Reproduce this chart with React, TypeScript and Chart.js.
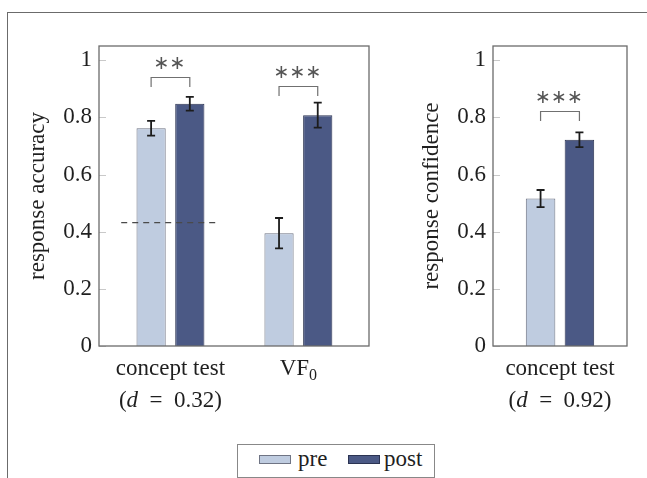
import React, { useEffect, useRef } from 'react';
import { Chart, registerables } from 'chart.js';

Chart.register(...registerables);

// ---------------- data ----------------
const seriesNames = ['pre', 'post'];

const accCategories = ['concept test', 'VF₀'];
const accNotes = ['(d = 0.32)', ''];
const accPre = [0.762, 0.395];
const accPost = [0.848, 0.808];
const accPreErr = [0.026, 0.053];
const accPostErr = [0.024, 0.044];
const accSigStars = ['**', '***'];
const accSigLevel = [0.943, 0.911];
const chanceLevel = 0.432;
const chanceSpan = [-0.385, 0.385];

const confCategories = ['concept test'];
const confNotes = ['(d = 0.92)'];
const confPre = [0.516];
const confPost = [0.722];
const confPreErr = [0.03];
const confPostErr = [0.026];
const confSigStars = ['***'];
const confSigLevel = [0.824];

const yTicks = [0, 0.2, 0.4, 0.6, 0.8, 1];
const yTickLabels = ['0', '0.2', '0.4', '0.6', '0.8', '1'];

// ---------------- style ----------------
const PRE_FILL = '#bfcce0';
const PRE_LINE = '#6f7484';
const POST_FILL = '#4b5985';
const POST_LINE = '#2b3352';
const TEXT = '#1f1f1f';
const FRAME = '#6b6b6b';
const SERIF = '"Liberation Serif", "DejaVu Serif", serif';
const FS = 23;

type Seg = { t: string; it?: boolean; sub?: boolean; gap?: boolean };

function segmentsOf(text: string): Seg[] {
  const m = text.match(/^\((\w) = (.+)\)$/);
  if (m) {
    return [
      { t: '(' },
      { t: m[1], it: true },
      { t: '=', gap: true },
      { t: m[2] + ')' },
    ];
  }
  const segs: Seg[] = [];
  let buf = '';
  for (const ch of text) {
    const c = ch.charCodeAt(0);
    if (c >= 0x2080 && c <= 0x2089) {
      if (buf) segs.push({ t: buf });
      buf = '';
      segs.push({ t: String(c - 0x2080), sub: true });
    } else buf += ch;
  }
  if (buf) segs.push({ t: buf });
  return segs;
}

function drawRich(ctx: CanvasRenderingContext2D, text: string, cx: number, baseline: number) {
  const segs = segmentsOf(text);
  const fontOf = (s: Seg) => `${s.it ? 'italic ' : ''}${s.sub ? 16 : FS}px ${SERIF}`;
  const gap = FS * 0.5;
  const widths = segs.map((s) => {
    ctx.font = fontOf(s);
    return ctx.measureText(s.t).width + (s.gap ? 2 * gap : 0);
  });
  const total = widths.reduce((a, b) => a + b, 0);
  let x = cx - total / 2;
  ctx.textAlign = 'left';
  ctx.textBaseline = 'alphabetic';
  segs.forEach((s, i) => {
    ctx.font = fontOf(s);
    ctx.fillText(s.t, x + (s.gap ? gap : 0), baseline + (s.sub ? 5 : 0));
    x += widths[i];
  });
}

type OverlayOpts = {
  values: number[][];
  errors: number[][];
  sigStars: string[];
  sigLevel: number[];
  categories: string[];
  notes: string[];
};

function makeOverlay(o: OverlayOpts) {
  return {
    id: 'overlay',
    afterDraw(chart: any) {
      const { ctx, chartArea: a, scales } = chart;
      const xs = scales.x;
      const ys = scales.y;
      ctx.save();
      // inner tick marks
      ctx.strokeStyle = '#c9c9c9';
      ctx.lineWidth = 1;
      yTicks.forEach((v) => {
        const py = Math.round(ys.getPixelForValue(v)) + 0.5;
        ctx.beginPath();
        ctx.moveTo(a.left, py);
        ctx.lineTo(a.left + 7, py);
        ctx.stroke();
      });
      // frame
      ctx.strokeStyle = FRAME;
      ctx.lineWidth = 1.3;
      ctx.strokeRect(a.left, a.top, a.right - a.left, a.bottom - a.top);
      // error bars
      o.errors.forEach((errs, d) => {
        const meta = chart.getDatasetMeta(d);
        meta.data.forEach((el: any, i: number) => {
          const v = o.values[d][i];
          const top = ys.getPixelForValue(v + errs[i]);
          const bot = ys.getPixelForValue(v - errs[i]);
          ctx.strokeStyle = '#1c1c1c';
          ctx.lineWidth = 1.8;
          ctx.beginPath();
          ctx.moveTo(el.x, top);
          ctx.lineTo(el.x, bot);
          ctx.moveTo(el.x - 4, top);
          ctx.lineTo(el.x + 4, top);
          ctx.moveTo(el.x - 4, bot);
          ctx.lineTo(el.x + 4, bot);
          ctx.stroke();
        });
      });
      // significance brackets
      const m0 = chart.getDatasetMeta(0);
      const m1 = chart.getDatasetMeta(1);
      o.sigStars.forEach((s, i) => {
        const x0 = m0.data[i].x;
        const x1 = m1.data[i].x;
        const py = Math.round(ys.getPixelForValue(o.sigLevel[i])) + 0.5;
        ctx.strokeStyle = '#707070';
        ctx.lineWidth = 1.2;
        ctx.beginPath();
        ctx.moveTo(x0, py + 9.5);
        ctx.lineTo(x0, py);
        ctx.lineTo(x1, py);
        ctx.lineTo(x1, py + 9.5);
        ctx.stroke();
        ctx.fillStyle = '#555';
        ctx.font = '19px "DejaVu Sans"';
        ctx.textAlign = 'center';
        ctx.textBaseline = 'middle';
        const n = s.length;
        const cx = (x0 + x1) / 2 - 1;
        for (let k = 0; k < n; k++) ctx.fillText('∗', cx + (k - (n - 1) / 2) * 16, py - 13);
      });
      // category labels
      ctx.fillStyle = TEXT;
      o.categories.forEach((c, i) => {
        const px = xs.getPixelForValue(i);
        drawRich(ctx, c, px, a.bottom + 29);
        if (o.notes[i]) drawRich(ctx, o.notes[i], px, a.bottom + 61);
      });
      ctx.restore();
    },
  };
}

function yAxis(title: string, width: number, titlePad: number) {
  return {
    min: 0,
    max: 1.05,
    grid: { display: false, drawTicks: false, tickLength: 0 },
    border: { display: false },
    afterBuildTicks: (s: any) => {
      s.ticks = yTicks.map((v) => ({ value: v }));
    },
    afterFit: (s: any) => {
      s.width = width;
    },
    ticks: {
      padding: 7,
      color: TEXT,
      font: { family: SERIF, size: FS },
      callback: (v: any) => yTickLabels[yTicks.indexOf(v)],
    },
    title: {
      display: true,
      text: title,
      color: TEXT,
      font: { family: SERIF, size: FS },
      padding: { top: titlePad, bottom: 0 },
    },
  };
}

function barDs(label: string, data: any[], fill: string, line: string, cat: number, bar: number) {
  return {
    type: 'bar',
    label,
    data,
    backgroundColor: fill,
    borderColor: line,
    borderWidth: 1,
    categoryPercentage: cat,
    barPercentage: bar,
    order: 0,
  };
}

export default function App() {
  const leftRef = useRef<HTMLCanvasElement>(null);
  const rightRef = useRef<HTMLCanvasElement>(null);

  useEffect(() => {
    const left = new Chart(leftRef.current as HTMLCanvasElement, {
      type: 'bar',
      data: {
        datasets: [
          barDs(seriesNames[0], accCategories.map((_, i) => ({ x: i, y: accPre[i] })), PRE_FILL, PRE_LINE, 0.605, 0.755),
          barDs(seriesNames[1], accCategories.map((_, i) => ({ x: i, y: accPost[i] })), POST_FILL, POST_LINE, 0.605, 0.755),
          {
            type: 'line',
            label: 'chance',
            data: chanceSpan.map((x) => ({ x, y: chanceLevel })),
            borderColor: '#4a4a4a',
            borderWidth: 1.2,
            borderDash: [6, 5],
            pointRadius: 0,
            order: -1,
          },
        ] as any,
      },
      options: {
        responsive: false,
        maintainAspectRatio: false,
        animation: false,
        layout: { padding: { left: 0, right: 278, top: 46, bottom: 58 } },
        plugins: { legend: { display: false }, tooltip: { enabled: false } },
        scales: {
          x: {
            type: 'linear',
            min: -0.5586,
            max: 1.552,
            offset: false,
            bounds: 'data',
            grace: 0,
            grid: { display: false, offset: false },
            border: { display: false },
            ticks: { display: false },
            afterBuildTicks: (s: any) => {
              s.ticks = accCategories.map((_, i) => ({ value: i }));
            },
            afterFit: (s: any) => {
              s.height = 74;
            },
          },
          y: yAxis('response accuracy', 99, 24) as any,
        },
      } as any,
      plugins: [
        makeOverlay({
          values: [accPre, accPost],
          errors: [accPreErr, accPostErr],
          sigStars: accSigStars,
          sigLevel: accSigLevel,
          categories: accCategories,
          notes: accNotes,
        }),
      ],
    });

    const right = new Chart(rightRef.current as HTMLCanvasElement, {
      type: 'bar',
      data: {
        labels: confCategories,
        datasets: [
          barDs(seriesNames[0], confPre, PRE_FILL, PRE_LINE, 0.58, 0.76),
          barDs(seriesNames[1], confPost, POST_FILL, POST_LINE, 0.58, 0.76),
        ] as any,
      },
      options: {
        responsive: false,
        maintainAspectRatio: false,
        animation: false,
        layout: { padding: { left: 400, right: 20, top: 46, bottom: 58 } },
        plugins: { legend: { display: false }, tooltip: { enabled: false } },
        scales: {
          x: {
            grid: { display: false },
            border: { display: false },
            ticks: { display: false },
            afterFit: (s: any) => {
              s.height = 74;
            },
          },
          y: yAxis('response confidence', 93, 18) as any,
        },
      } as any,
      plugins: [
        makeOverlay({
          values: [confPre, confPost],
          errors: [confPreErr, confPostErr],
          sigStars: confSigStars,
          sigLevel: confSigLevel,
          categories: confCategories,
          notes: confNotes,
        }),
      ],
    });

    return () => {
      left.destroy();
      right.destroy();
    };
  }, []);

  const legendText: React.CSSProperties = {
    position: 'absolute',
    top: 2,
    fontFamily: SERIF,
    fontSize: FS,
    lineHeight: `${FS}px`,
    color: TEXT,
    whiteSpace: 'nowrap',
  };
  const swatch: React.CSSProperties = {
    position: 'absolute',
    top: 10,
    width: 32,
    height: 9,
    boxSizing: 'border-box',
  };

  return (
    <div
      style={{
        position: 'absolute',
        left: 0,
        top: 0,
        width: 647,
        height: 478,
        overflow: 'hidden',
        background: '#fff',
      }}
    >
      <div
        style={{
          position: 'absolute',
          left: 7,
          top: 12,
          width: 1000,
          height: 1000,
          border: `1px solid ${FRAME}`,
        }}
      />
      <canvas
        ref={leftRef}
        width={647}
        height={478}
        style={{ position: 'absolute', left: 0, top: 0, width: 647, height: 478 }}
      />
      <canvas
        ref={rightRef}
        width={647}
        height={478}
        style={{ position: 'absolute', left: 0, top: 0, width: 647, height: 478 }}
      />
      <div
        style={{
          position: 'absolute',
          left: 237,
          top: 444,
          width: 198,
          height: 34,
          boxSizing: 'border-box',
          border: '1px solid #888',
          background: '#fff',
        }}
      >
        <span style={{ ...swatch, left: 21, background: PRE_FILL, border: `1px solid ${PRE_LINE}` }} />
        <span style={{ ...legendText, left: 60 }}>{seriesNames[0]}</span>
        <span style={{ ...swatch, left: 110, background: POST_FILL, border: `1px solid ${POST_LINE}` }} />
        <span style={{ ...legendText, left: 146 }}>{seriesNames[1]}</span>
      </div>
    </div>
  );
}
